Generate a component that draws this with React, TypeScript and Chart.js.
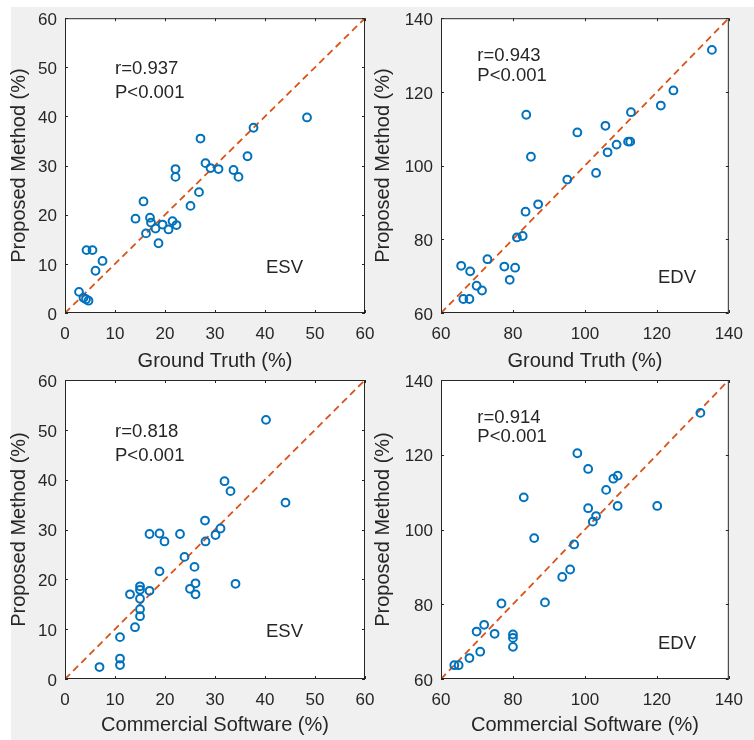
import React, { useEffect, useRef } from "react";
import { Chart, registerables } from "chart.js";

Chart.register(...registerables);

// ---------- data ----------
// Panel A: ESV, Ground Truth vs Proposed Method
const esvGroundTruth = [2.8, 3.7, 4.2, 4.7, 4.3, 5.5, 6.1, 7.5, 14.1, 15.7, 16.2, 17.0, 17.2, 18.1, 18.7, 19.5, 20.7, 21.5, 22.3, 22.1, 22.1, 25.1, 26.8, 27.1, 28.1, 29.1, 30.7, 33.7, 34.7, 36.5, 37.7, 48.4];
const esvProposedA = [4.3, 3.1, 2.8, 2.5, 12.8, 12.8, 8.6, 10.6, 19.2, 22.7, 16.2, 19.4, 18.4, 17.2, 14.2, 18.0, 17.0, 18.7, 17.9, 29.3, 27.7, 21.8, 24.6, 35.5, 30.5, 29.5, 29.3, 29.1, 27.7, 31.9, 37.7, 39.8];

// Panel B: EDV, Ground Truth vs Proposed Method
const edvGroundTruth = [65.6, 68.1, 66.2, 67.9, 69.9, 71.4, 72.9, 77.6, 79.1, 80.6, 81.1, 82.7, 83.5, 87.0, 83.7, 85.0, 95.1, 97.9, 103.1, 105.7, 106.3, 108.8, 112.0, 112.6, 112.8, 121.1, 124.6, 135.3];
const edvProposedA = [72.8, 71.3, 63.8, 63.8, 67.4, 66.1, 74.6, 72.6, 69.0, 72.3, 80.5, 80.9, 87.5, 89.5, 113.8, 102.4, 96.2, 109.0, 98.0, 110.8, 103.6, 105.7, 106.5, 106.5, 114.5, 116.3, 120.4, 131.4];

// Panel C: ESV, Commercial Software vs Proposed Method
const esvCommercial = [6.9, 11.0, 11.0, 11.0, 14.0, 13.0, 15.0, 15.0, 15.0, 15.0, 15.0, 16.9, 16.9, 18.9, 19.9, 18.9, 23.0, 23.9, 25.0, 25.9, 26.1, 26.1, 28.0, 28.1, 30.1, 31.1, 31.9, 33.1, 34.1, 40.2, 44.1];
const esvProposedB = [2.4, 4.1, 2.8, 8.4, 10.4, 17.0, 18.6, 17.9, 16.1, 14.0, 12.6, 17.7, 29.1, 29.2, 27.6, 21.6, 29.1, 24.5, 18.1, 22.5, 19.2, 17.0, 31.8, 27.6, 28.9, 30.2, 39.7, 37.7, 19.1, 52.0, 35.4];

// Panel D: EDV, Commercial Software vs Proposed Method
const edvCommercial = [63.7, 64.9, 67.9, 70.9, 69.9, 72.0, 74.9, 76.8, 80.0, 80.0, 80.0, 83.0, 85.9, 88.9, 93.7, 95.9, 97.0, 97.9, 100.9, 100.9, 102.2, 103.1, 105.9, 107.9, 109.1, 109.1, 120.1, 132.1];
const edvProposedB = [63.7, 63.7, 65.6, 67.3, 72.7, 74.5, 72.1, 80.2, 71.9, 71.0, 68.6, 108.6, 97.7, 80.5, 87.3, 89.3, 96.0, 120.4, 116.2, 105.7, 102.1, 103.6, 110.6, 113.6, 114.4, 106.3, 106.3, 131.2];

// Axis ranges and text
const esvRange = [0, 60];
const edvRange = [60, 140];
const esvStep = 10;
const edvStep = 20;
const xTitles = ["Ground Truth (%)", "Ground Truth (%)", "Commercial Software (%)", "Commercial Software (%)"];
const yTitle = "Proposed Method (%)";
const rValues = ["r=0.937", "r=0.943", "r=0.818", "r=0.914"];
const pValues = ["P<0.001", "P<0.001", "P<0.001", "P<0.001"];
const volumeLabels = ["ESV", "EDV", "ESV", "EDV"];

// ---------- styling ----------
const FONT = "'Liberation Sans', Arial, Helvetica, sans-serif";
const AXIS_COLOR = "#262626";
const MARKER_COLOR = "#0072BD";
const LINE_COLOR = "#D95319";
const W = 754;
const H = 740;

type PanelSpec = {
  xs: number[];
  ys: number[];
  range: number[];
  step: number;
  xTitle: string;
  r: string;
  p: string;
  label: string;
  textAt: [number, number];
  lineGap: number;
  labelAt: [number, number];
  pad: { left: number; top: number; right: number; bottom: number };
  yAxisWidth: number;
  xAxisHeight: number;
};

const panels: PanelSpec[] = [
  {
    xs: esvGroundTruth, ys: esvProposedA, range: esvRange, step: esvStep,
    xTitle: xTitles[0], r: rValues[0], p: pValues[0], label: volumeLabels[0],
    textAt: [10, 49.6], lineGap: 24, labelAt: [40.2, 9.2],
    pad: { left: 7, top: 14, right: W - 365, bottom: H - 313 - 60 }, yAxisWidth: 58, xAxisHeight: 60,
  },
  {
    xs: edvGroundTruth, ys: edvProposedA, range: edvRange, step: edvStep,
    xTitle: xTitles[1], r: rValues[1], p: pValues[1], label: volumeLabels[1],
    textAt: [70.1, 129.8], lineGap: 20, labelAt: [120.3, 69.4],
    pad: { left: 371, top: 14, right: W - 741, bottom: H - 313 - 60 }, yAxisWidth: 70, xAxisHeight: 60,
  },
  {
    xs: esvCommercial, ys: esvProposedB, range: esvRange, step: esvStep,
    xTitle: xTitles[2], r: rValues[2], p: pValues[2], label: volumeLabels[2],
    textAt: [10, 49.6], lineGap: 24, labelAt: [40.2, 9.4],
    pad: { left: 7, top: 380, right: W - 365, bottom: H - 679 - 58 }, yAxisWidth: 58, xAxisHeight: 58,
  },
  {
    xs: edvCommercial, ys: edvProposedB, range: edvRange, step: edvStep,
    xTitle: xTitles[3], r: rValues[3], p: pValues[3], label: volumeLabels[3],
    textAt: [70.1, 129.8], lineGap: 19, labelAt: [120.3, 69.4],
    pad: { left: 371, top: 380, right: W - 741, bottom: H - 679 - 58 }, yAxisWidth: 70, xAxisHeight: 58,
  },
];

const framePlugin = {
  id: "matlabFrame",
  beforeDraw(chart: any) {
    const { ctx, chartArea: a } = chart;
    ctx.save();
    ctx.fillStyle = "#ffffff";
    ctx.fillRect(a.left, a.top, a.right - a.left, a.bottom - a.top);
    ctx.restore();
  },
  afterDraw(chart: any, _args: any, opts: any) {
    const { ctx, chartArea: a, scales } = chart;
    const x = scales.x;
    const y = scales.y;
    ctx.save();
    ctx.strokeStyle = AXIS_COLOR;
    ctx.lineWidth = 1;
    ctx.beginPath();
    const tl = 3;
    x.ticks.forEach((t: any) => {
      const px = Math.round(x.getPixelForValue(t.value)) + 0.5;
      ctx.moveTo(px, a.bottom);
      ctx.lineTo(px, a.bottom - tl);
      ctx.moveTo(px, a.top);
      ctx.lineTo(px, a.top + tl);
    });
    y.ticks.forEach((t: any) => {
      const py = Math.round(y.getPixelForValue(t.value)) + 0.5;
      ctx.moveTo(a.left, py);
      ctx.lineTo(a.left + tl, py);
      ctx.moveTo(a.right, py);
      ctx.lineTo(a.right - tl, py);
    });
    ctx.stroke();
    ctx.strokeRect(a.left + 0.5, a.top + 0.5, a.right - a.left - 1, a.bottom - a.top - 1);

    // annotation text
    ctx.fillStyle = AXIS_COLOR;
    ctx.font = `18.5px ${FONT}`;
    ctx.textAlign = "left";
    ctx.textBaseline = "middle";
    const tx = x.getPixelForValue(opts.textAt[0]);
    const ty = y.getPixelForValue(opts.textAt[1]);
    ctx.fillText(opts.r, tx, ty);
    ctx.fillText(opts.p, tx, ty + opts.lineGap);
    ctx.fillText(opts.label, x.getPixelForValue(opts.labelAt[0]), y.getPixelForValue(opts.labelAt[1]));
    ctx.restore();
  },
};

function Panel({ spec }: { spec: PanelSpec }) {
  const ref = useRef<HTMLCanvasElement | null>(null);
  useEffect(() => {
    if (!ref.current) return;
    const [lo, hi] = spec.range;
    const chart = new Chart(ref.current, {
      type: "scatter",
      data: {
        datasets: [
          {
            type: "scatter",
            data: spec.xs.map((v, i) => ({ x: v, y: spec.ys[i] })),
            pointStyle: "circle",
            pointRadius: 3.9,
            pointBorderWidth: 2,
            borderColor: MARKER_COLOR,
            pointBorderColor: MARKER_COLOR,
            backgroundColor: "rgba(0,0,0,0)",
            pointBackgroundColor: "rgba(0,0,0,0)",
          } as any,
          {
            type: "line",
            data: [
              { x: lo, y: lo },
              { x: hi, y: hi },
            ],
            showLine: true,
            borderColor: LINE_COLOR,
            borderWidth: 1.8,
            borderDash: [7, 4.5],
            pointRadius: 0,
            fill: false,
          } as any,
        ],
      },
      options: {
        responsive: false,
        animation: false,
        devicePixelRatio: 1,
        events: [],
        layout: { padding: spec.pad, autoPadding: false } as any,
        plugins: {
          legend: { display: false },
          tooltip: { enabled: false },
          matlabFrame: {
            r: spec.r,
            p: spec.p,
            label: spec.label,
            textAt: spec.textAt,
            lineGap: spec.lineGap,
            labelAt: spec.labelAt,
          },
        } as any,
        scales: {
          x: {
            type: "linear",
            min: lo,
            max: hi,
            grid: { display: false, drawTicks: false },
            border: { display: false },
            ticks: {
              stepSize: spec.step,
              padding: 11,
              maxRotation: 0,
              autoSkip: false,
              color: AXIS_COLOR,
              font: { family: FONT, size: 17 },
            },
            title: {
              display: true,
              text: spec.xTitle,
              color: AXIS_COLOR,
              font: { family: FONT, size: 20 },
              padding: 0,
            },
            afterFit: (s: any) => {
              s.height = spec.xAxisHeight;
            },
          },
          y: {
            type: "linear",
            min: lo,
            max: hi,
            grid: { display: false, drawTicks: false },
            border: { display: false },
            ticks: {
              stepSize: spec.step,
              padding: 8,
              labelOffset: 2,
              autoSkip: false,
              color: AXIS_COLOR,
              font: { family: FONT, size: 17 },
            },
            title: {
              display: true,
              text: yTitle,
              color: AXIS_COLOR,
              font: { family: FONT, size: 20 },
              padding: 0,
            },
            afterFit: (s: any) => {
              s.width = spec.yAxisWidth;
            },
          },
        },
      } as any,
      plugins: [framePlugin],
    });
    return () => chart.destroy();
  }, [spec]);
  return (
    <canvas
      ref={ref}
      width={W}
      height={H}
      style={{ position: "absolute", left: 0, top: 0, width: W, height: H }}
    />
  );
}

export default function App() {
  return (
    <div
      style={{
        position: "fixed",
        left: 0,
        top: 0,
        width: W,
        height: H,
        background: "#ffffff",
        overflow: "hidden",
      }}
    >
      <div
        style={{
          position: "absolute",
          left: 11,
          top: 7,
          right: 0,
          bottom: 0,
          background: "#f0f0f0",
        }}
      />
      {panels.map((p, i) => (
        <Panel key={i} spec={p} />
      ))}
    </div>
  );
}
